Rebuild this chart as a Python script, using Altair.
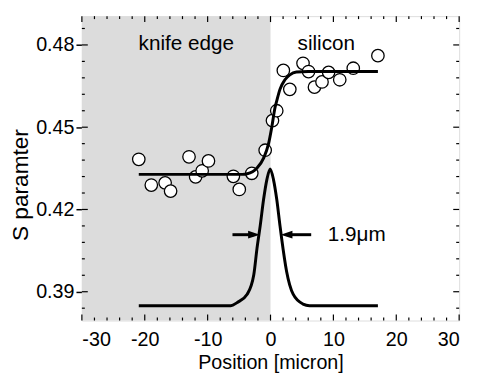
import altair as alt
import pandas as pd

# ---- data ----
pos_x = [-20.95, -18.96, -16.76, -15.89, -12.96, -11.91, -10.87, -9.87, -5.91, -4.97,
         -2.98, -0.85, 0.31, 0.99, 2.04, 3.07, 5.17, 6.05, 6.99, 8.19, 9.24, 11.01,
         13.16, 17.08]
s_val = [0.4383, 0.4289, 0.4297, 0.4267, 0.4392, 0.4319, 0.4341, 0.4377, 0.4321, 0.4273,
         0.4332, 0.4416, 0.4524, 0.4560, 0.4707, 0.4638, 0.4733, 0.4703, 0.4646, 0.4665,
         0.4700, 0.4673, 0.4715, 0.4761]

fit_x = [-20.95, -4.5, -3.7, -2.15, -1.1, -0.31, 0.2, 0.72, 0.99, 1.5, 2.29, 3.07, 4.12, 6.0, 17.08]
fit_y = [0.4328, 0.4328, 0.4330, 0.4351, 0.4387, 0.4440, 0.4500, 0.4572, 0.4596, 0.4638,
         0.4673, 0.4691, 0.4701, 0.4703, 0.4703]

peak_x = [-20.95, -6.33, -5.28, -3.71, -2.66, -2.15, -1.63, -1.1, -0.58, -0.06, 0.47,
          0.99, 1.5, 1.77, 2.55, 3.6, 5.17, 6.2, 17.08]
peak_y = [0.3849, 0.3849, 0.3861, 0.3891, 0.3962, 0.4058, 0.4142, 0.4237, 0.4309, 0.4348,
          0.4309, 0.4237, 0.4142, 0.4094, 0.3975, 0.3891, 0.3855, 0.3849, 0.3849]

region_x = [-30, 0]

label_text = ["knife edge", "silicon"]
label_x = [-13.4, 8.87]
label_y = [0.4782, 0.4782]

width_text = ["1.9\u03bcm"]
width_x = [9.1]
width_y = [0.4108]

arrow_shaft_x1 = [-6.05, 2.55]
arrow_shaft_x2 = [-2.62, 6.47]
arrow_head_x = [-2.62, 2.55]
arrow_head_shape = ["M-1,-0.65L1,0L-1,0.65Z", "M1,-0.65L-1,0L1,0.65Z"]
arrow_y = [0.4108, 0.4108]

x_major = [-30, -20, -10, 0, 10, 20, 30]
x_minor = [-28, -26, -24, -22, -18, -16, -14, -12, -8, -6, -4, -2,
           2, 4, 6, 8, 12, 14, 16, 18, 22, 24, 26, 28]
y_major = [0.39, 0.42, 0.45, 0.48]
y_minor = [0.384, 0.396, 0.402, 0.408, 0.414, 0.426, 0.432, 0.438, 0.444,
           0.456, 0.462, 0.468, 0.474, 0.486]

# ---- chart ----
W, H = 383, 309
FONT = "Liberation Sans"
xs = alt.Scale(domain=[-30, 30], nice=False)
ys = alt.Scale(domain=[0.3795, 0.4905], nice=False, zero=False)

XAX = alt.Axis(
    values=x_major, labelExpr="datum.value + ''", ticks=False, tickSize=0, labelPadding=9,
    labelFontSize=20, labelFont=FONT, labelColor="black", domain=False, grid=False,
    title="Position [micron]", titleFontSize=20, titleFont=FONT, titleFontWeight="normal",
    titleColor="black", titleBaseline="alphabetic", titleY=49)
YAX = alt.Axis(
    values=y_major, format=".2f", tickSize=6, tickWidth=1.5, tickColor="black",
    labelPadding=2, labelFontSize=20, labelFont=FONT, labelColor="black",
    domain=False, grid=False,
    title="S paramter", titleFontSize=23, titleFont=FONT, titleFontWeight="normal",
    titleColor="black", titleBaseline="alphabetic", titleX=-55, titleY=171)


def ex(field):
    return alt.X(field, type="quantitative", scale=xs, axis=XAX)


def ey(field):
    return alt.Y(field, type="quantitative", scale=ys, axis=YAX)


region = alt.Chart(pd.DataFrame({"x0": [region_x[0]], "x1": [region_x[1]]})).mark_rect(
    color="#dcdcdc").encode(
    x=ex("x0"), x2="x1:Q", y=alt.value(0), y2=alt.value(H))

pts = alt.Chart(pd.DataFrame({"x": pos_x, "y": s_val})).mark_point(
    shape="circle", size=160, filled=True, fill="white", stroke="black",
    strokeWidth=1.3, opacity=1).encode(x=ex("x"), y=ey("y"))

fit = alt.Chart(pd.DataFrame({"x": fit_x, "y": fit_y})).mark_line(
    color="black", strokeWidth=3, interpolate="monotone").encode(x=ex("x"), y=ey("y"))

peak = alt.Chart(pd.DataFrame({"x": peak_x, "y": peak_y})).mark_line(
    color="black", strokeWidth=3, interpolate="monotone").encode(x=ex("x"), y=ey("y"))

shafts = alt.Chart(pd.DataFrame({"x": arrow_shaft_x1, "x2": arrow_shaft_x2, "y": arrow_y})).mark_rule(
    color="black", strokeWidth=3).encode(x=ex("x"), x2="x2:Q", y=ey("y"))

heads = alt.Chart(pd.DataFrame({"x": arrow_head_x, "y": arrow_y, "s": arrow_head_shape})).mark_point(
    filled=True, color="black", size=144, opacity=1, strokeWidth=0).encode(
    x=ex("x"), y=ey("y"), shape=alt.Shape("s:N", scale=None))

labels = alt.Chart(pd.DataFrame({"x": label_x, "y": label_y, "t": label_text})).mark_text(
    font=FONT, fontSize=21, color="black", align="center", baseline="alphabetic").encode(
    x=ex("x"), y=ey("y"), text="t:N")

wlabel = alt.Chart(pd.DataFrame({"x": width_x, "y": width_y, "t": width_text})).mark_text(
    font=FONT, fontSize=21, color="black", align="left", baseline="middle").encode(
    x=ex("x"), y=ey("y"), text="t:N")


def xticks(vals, length):
    d = pd.DataFrame({"x": vals})
    bottom = alt.Chart(d).mark_rule(color="black", strokeWidth=1.2).encode(
        x=ex("x"), y=alt.value(H), y2=alt.value(H - length))
    top = alt.Chart(d).mark_rule(color="black", strokeWidth=1.2).encode(
        x=ex("x"), y=alt.value(0), y2=alt.value(length))
    return [bottom, top]


def yticks(vals, length):
    d = pd.DataFrame({"y": vals})
    left = alt.Chart(d).mark_rule(color="black", strokeWidth=1.2).encode(
        y=ey("y"), x=alt.value(0), x2=alt.value(length))
    right = alt.Chart(d).mark_rule(color="black", strokeWidth=1.2).encode(
        y=ey("y"), x=alt.value(W), x2=alt.value(W - length))
    return [left, right]


tick_layers = xticks(x_major, 6) + xticks(x_minor, 3) + yticks(y_major, 6) + yticks(y_minor, 3)

chart = alt.layer(region, *tick_layers, pts, fit, peak, shafts, heads, labels, wlabel).properties(
    width=W, height=H, autosize="none",
    padding={"left": 75, "top": 5.5, "right": 10, "bottom": 50},
).configure_view(stroke="black", strokeWidth=1.5).configure(background="white")

chart.save("out.html", embed_options={"renderer": "svg", "actions": False})
